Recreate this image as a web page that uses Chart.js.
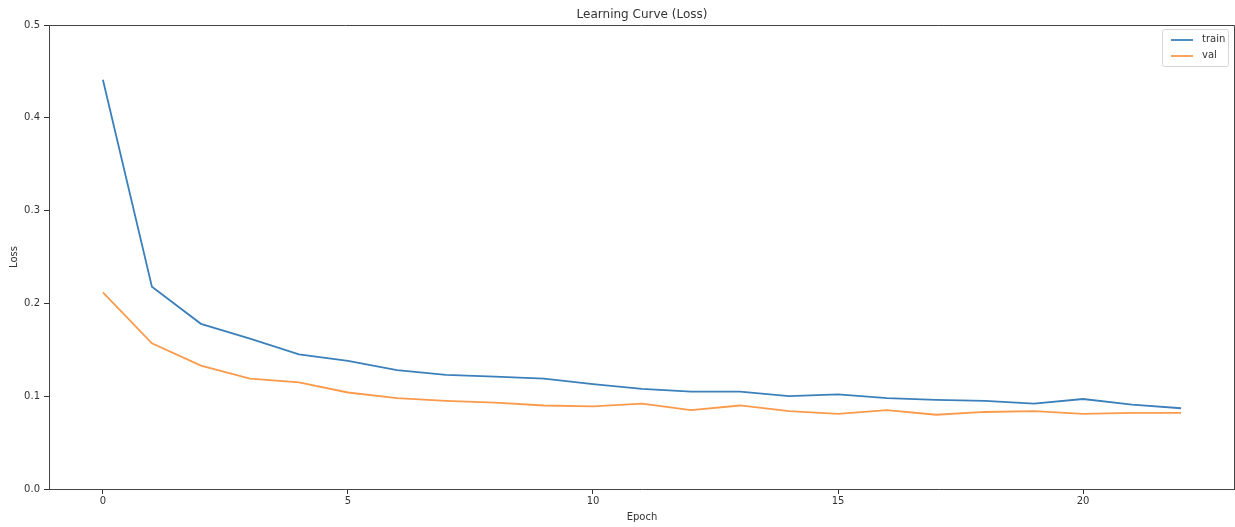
<!DOCTYPE html>
<html>
<head>
<meta charset="utf-8">
<script src="https://cdn.jsdelivr.net/npm/chart.js@4.4.0/dist/chart.umd.min.js"></script>
<style>
    html, body {margin: 0; padding: 0; background: #fff;}
    #wrap {width: 1235px; height: 527px; position: relative;}
</style>
</head>
<body>
<div id="wrap"><canvas id="lossChart"></canvas></div>
<script>
// values
const epochs = [0, 1, 2, 3, 4, 5, 6, 7, 8, 9, 10, 11, 12, 13, 14, 15, 16, 17, 18, 19, 20, 21, 22];
const trainLoss = [0.441, 0.218, 0.178, 0.162, 0.145, 0.138, 0.128, 0.123, 0.121, 0.119, 0.113, 0.108, 0.105, 0.105,
    0.100, 0.102, 0.098, 0.096, 0.095, 0.092, 0.097, 0.091, 0.087];
const valLoss = [0.212, 0.157, 0.133, 0.119, 0.115, 0.104, 0.098, 0.095, 0.093, 0.090, 0.089, 0.092, 0.085, 0.090,
    0.084, 0.081, 0.085, 0.080, 0.083, 0.084, 0.081, 0.082, 0.082];
const xTicks = [0, 5, 10, 15, 20];
const yTicks = [0.0, 0.1, 0.2, 0.3, 0.4, 0.5];

const FONT = "'DejaVu Sans', sans-serif";
const INK = '#333';

// top + right spines, like matplotlib's box
const boxPlugin = {
    id: 'box',
    afterDatasetsDraw(chart) {
        const {ctx, chartArea: a} = chart;
        ctx.save();
        ctx.strokeStyle = '#444';
        ctx.lineWidth = 1;
        ctx.beginPath();
        ctx.moveTo(a.left, a.top + 0.5);
        ctx.lineTo(a.right - 0.5, a.top + 0.5);
        ctx.lineTo(a.right - 0.5, a.bottom);
        ctx.stroke();
        ctx.restore();
    }
};

// title centred over the plot area
const titlePlugin = {
    id: 'plotTitle',
    afterDraw(chart) {
        const {ctx, chartArea: a} = chart;
        ctx.save();
        ctx.font = '12px ' + FONT;
        ctx.fillStyle = INK;
        ctx.textAlign = 'center';
        ctx.textBaseline = 'middle';
        ctx.fillText('Learning Curve (Loss)', (a.left + a.right) / 2, a.top - 10);
        ctx.restore();
    }
};

// matplotlib style legend in the upper right corner
const legendPlugin = {
    id: 'mplLegend',
    afterDraw(chart) {
        const {ctx, chartArea: a} = chart;
        const sets = chart.data.datasets;
        const left = a.right - 73, top = a.top + 4;
        const w = 66, h = 37;
        ctx.save();
        ctx.fillStyle = 'rgba(255,255,255,0.8)';
        ctx.strokeStyle = '#d6d6d6';
        ctx.lineWidth = 1;
        ctx.beginPath();
        ctx.roundRect(left + 0.5, top + 0.5, w, h, 2);
        ctx.fill();
        ctx.stroke();
        ctx.font = '10px ' + FONT;
        ctx.textBaseline = 'middle';
        sets.forEach((ds, i) => {
            const y = top + 11 + i * 16;
            ctx.strokeStyle = ds.borderColor;
            ctx.lineWidth = ds.borderWidth;
            ctx.beginPath();
            ctx.moveTo(left + 9, y);
            ctx.lineTo(left + 31, y);
            ctx.stroke();
            ctx.fillStyle = INK;
            ctx.fillText(ds.label, left + 40, y - 1);
        });
        ctx.restore();
    }
};

const ctx = document.getElementById('lossChart');
new Chart(ctx, {
    type: 'line',
    data: {
        datasets: [
            {
                label: 'train',
                data: epochs.map((e, i) => ({x: e, y: trainLoss[i]})),
                borderColor: '#3b80ba',
                borderWidth: 1.8,
                pointRadius: 0,
                tension: 0,
                fill: false
            },
            {
                label: 'val',
                data: epochs.map((e, i) => ({x: e, y: valLoss[i]})),
                borderColor: '#fb9a4b',
                borderWidth: 1.8,
                pointRadius: 0,
                tension: 0,
                fill: false
            }
        ]
    },
    options: {
        responsive: true,
        maintainAspectRatio: false,
        animation: false,
        layout: {padding: {top: 25, right: 0, left: 0, bottom: 0}},
        plugins: {
            legend: {display: false},
            title: {display: false},
            tooltip: {enabled: false}
        },
        scales: {
            x: {
                type: 'linear',
                min: -1.1,
                max: 23.1,
                afterBuildTicks: (s) => { s.ticks = xTicks.map(v => ({value: v})); },
                afterFit: (s) => { s.height = 38; },
                ticks: {font: {family: FONT, size: 10}, color: INK, padding: 1, maxRotation: 0, autoSkip: false},
                grid: {display: true, drawOnChartArea: false, drawTicks: true, tickLength: 5, color: INK},
                border: {display: true, color: '#444', width: 1},
                title: {display: true, text: 'Epoch', font: {family: FONT, size: 10}, color: INK, padding: {top: 0, bottom: 4}}
            },
            y: {
                type: 'linear',
                min: 0,
                max: 0.5,
                afterBuildTicks: (s) => { s.ticks = yTicks.map(v => ({value: v})); },
                afterFit: (s) => { s.width = 49; },
                ticks: {font: {family: FONT, size: 10}, color: INK, padding: 4, callback: (v) => v.toFixed(1)},
                grid: {display: true, drawOnChartArea: false, drawTicks: true, tickLength: 5, color: INK},
                border: {display: true, color: '#444', width: 1},
                title: {display: true, text: 'Loss', font: {family: FONT, size: 10}, color: INK, padding: {top: 8, bottom: 0}}
            }
        }
    },
    plugins: [boxPlugin, titlePlugin, legendPlugin]
});
</script>
</body>
</html>
